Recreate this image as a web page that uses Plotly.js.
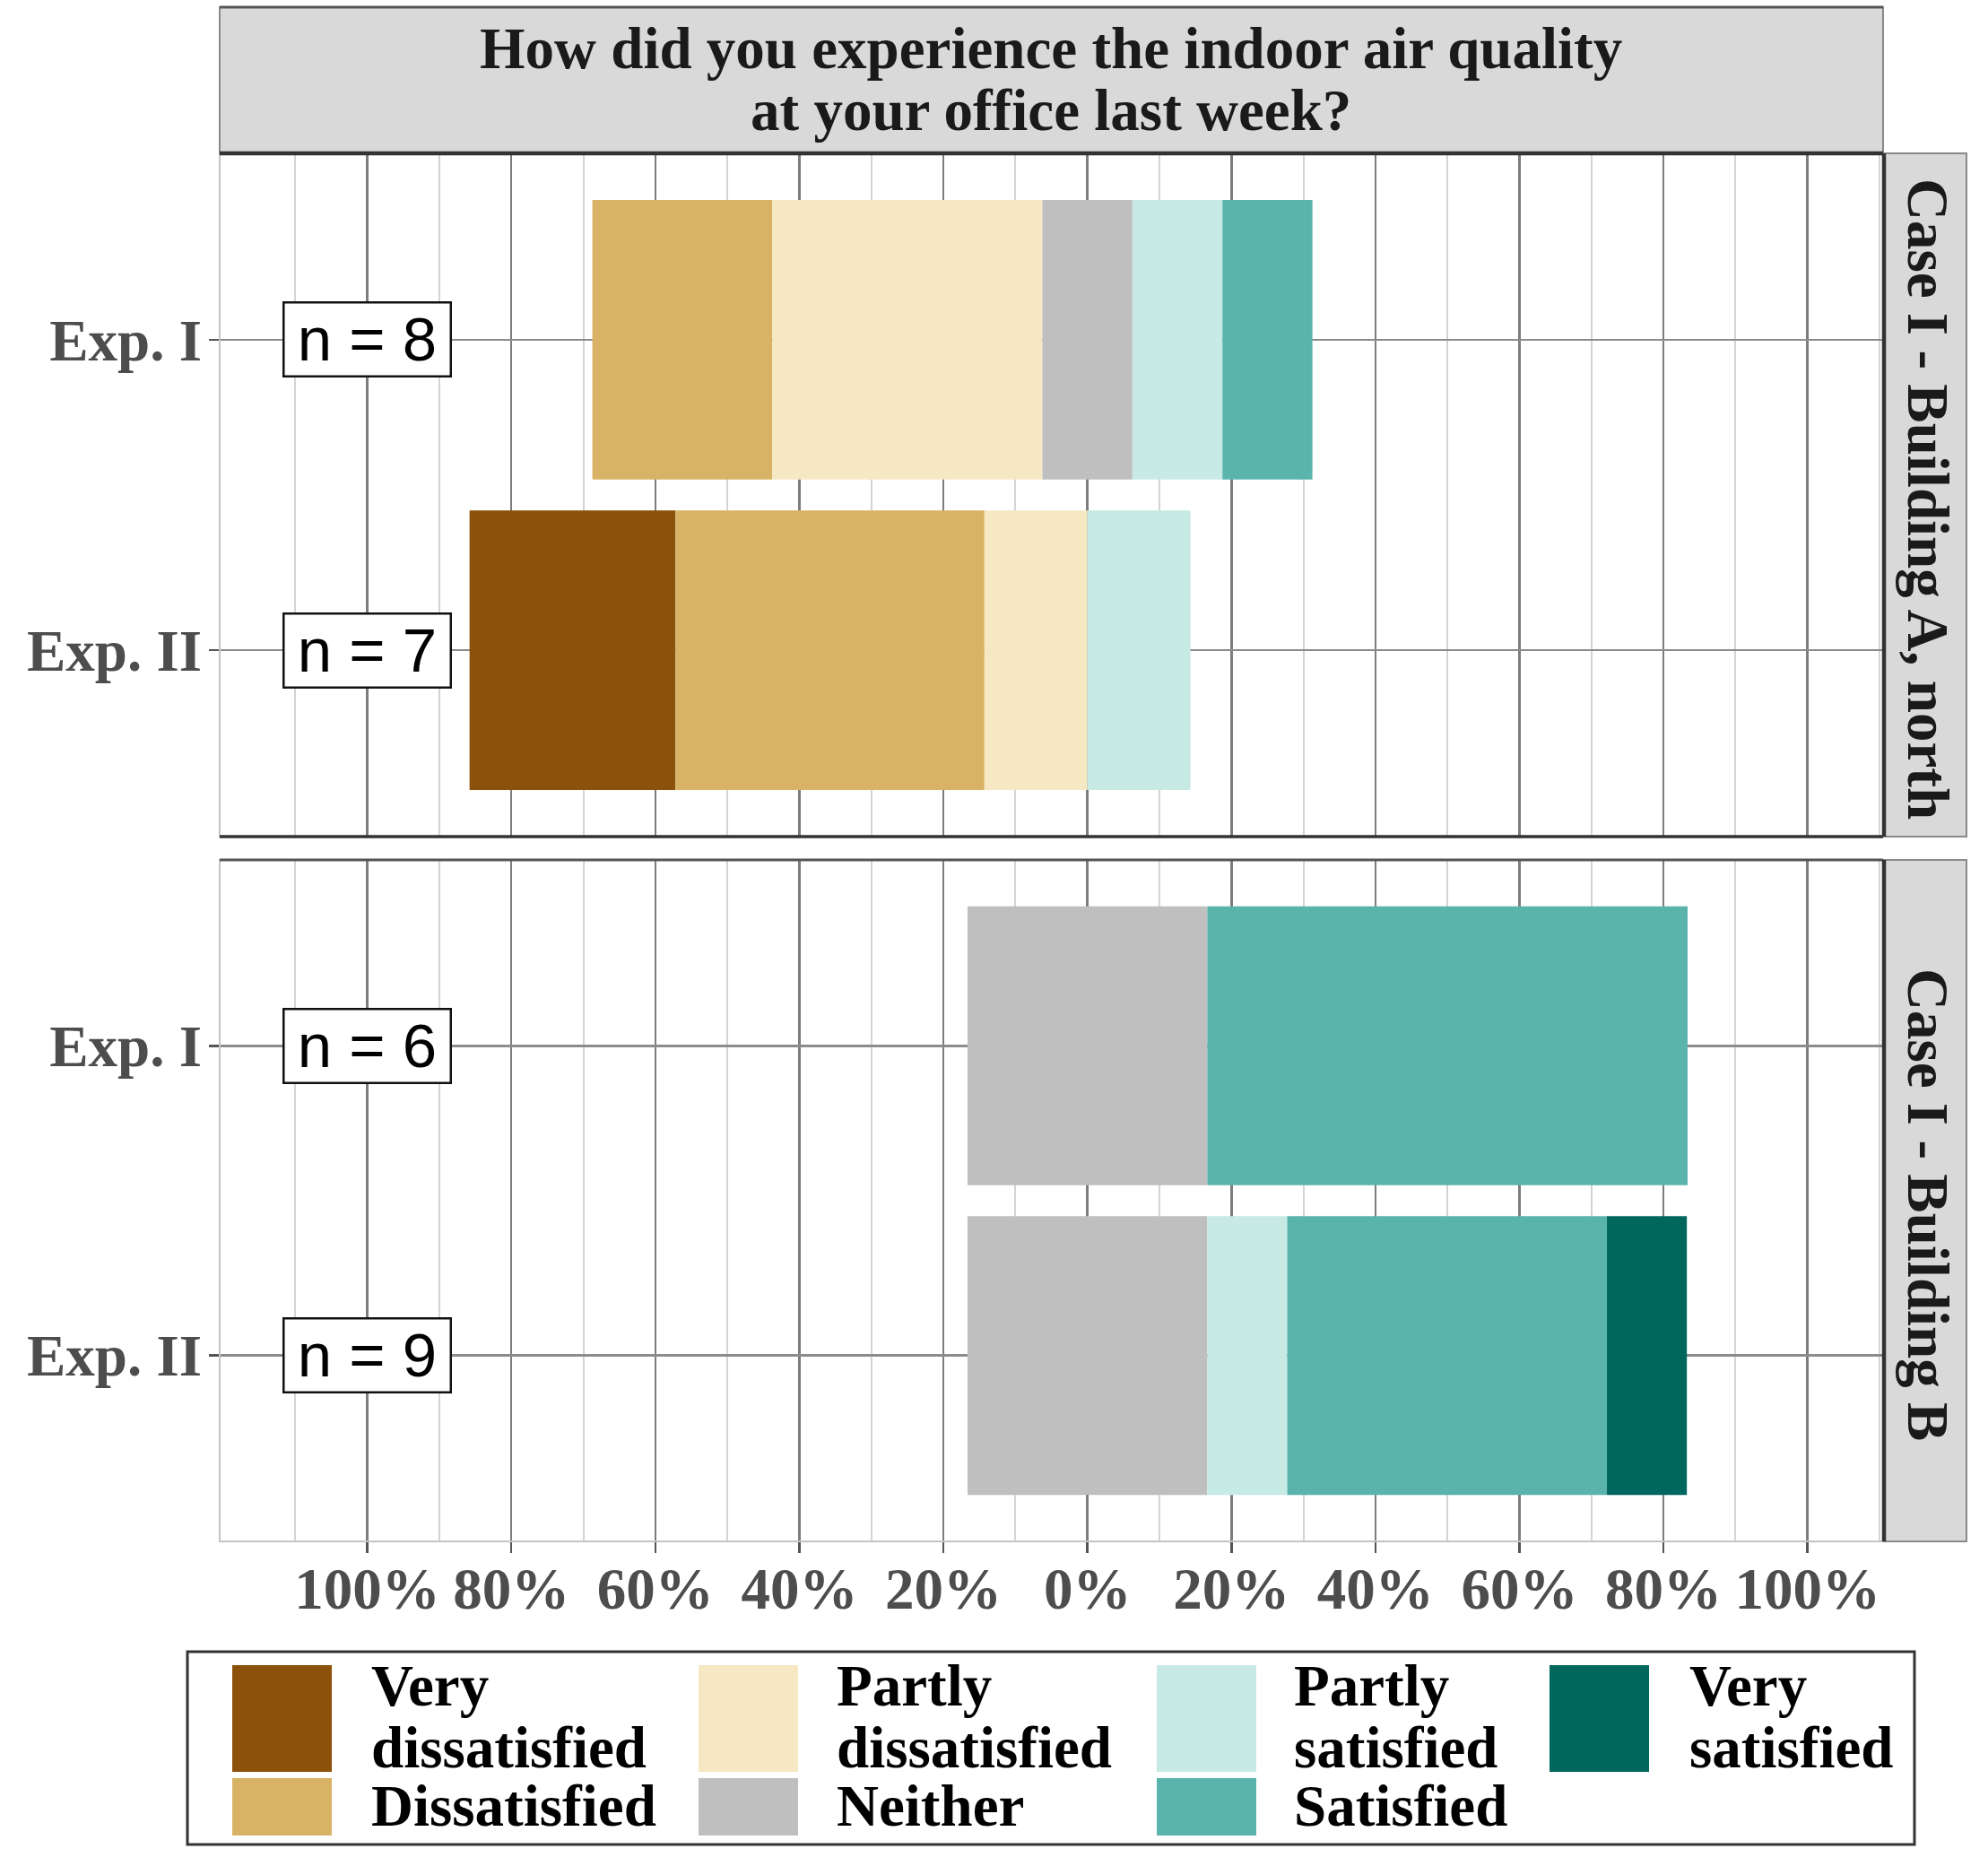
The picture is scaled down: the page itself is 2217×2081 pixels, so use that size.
<!DOCTYPE html>
<html>
<head>
<meta charset="utf-8">
<script src="https://cdn.plot.ly/plotly-3.0.1.min.js"></script>
<style>
  body { margin: 0; background: #fff; }
  #grafica { width: 2217px; height: 2081px; }
</style>
</head>
<body>
<div id="grafica"></div>
<script>
// filas: [A Exp. I, A Exp. II, B Exp. I, B Exp. II]  (porcentajes)
const grupos = ["Exp. I", "Exp. II"];
const paneles = ["Case I - Building A, north", "Case I - Building B"];
const nEncuestados = [8, 7, 6, 9];

const veryDissatisfied   = [0, 28.6, 0, 0];
const dissatisfied       = [25, 42.9, 0, 0];
const partlyDissatisfied = [37.5, 14.3, 0, 0];
const neither            = [12.5, 0, 33.3, 33.3];
const partlySatisfied    = [12.5, 14.3, 0, 11.1];
const satisfied          = [12.5, 0, 66.7, 44.4];
const verySatisfied      = [0, 0, 0, 11.1];

const ticksX = [-100, -80, -60, -40, -20, 0, 20, 40, 60, 80, 100];
const textosX = ["100%", "80%", "60%", "40%", "20%", "0%", "20%", "40%", "60%", "80%", "100%"];
const ticksMenores = [-110, -90, -70, -50, -30, -10, 10, 30, 50, 70, 90, 110];

const colores = {
  "Very dissatisfied": "#8c510a",
  "Dissatisfied": "#d8b365",
  "Partly dissatisfied": "#f6e8c3",
  "Neither": "#bfbfbf",
  "Partly satisfied": "#c7eae5",
  "Satisfied": "#5ab4ac",
  "Very satisfied": "#01665e"
};

const W = 2217, H = 2081;
const px = v => v / W;
const py = v => 1 - v / H;

const SERIF = "Liberation Serif, Times New Roman, serif";
const SANS = "Liberation Sans, Arial, sans-serif";

// barras divergentes: "Neither" queda centrada en 0
function trazasPanel(p) {
  const filas = [p * 2, p * 2 + 1];
  const ejeX = p === 0 ? "x" : "x2";
  const ejeY = p === 0 ? "y" : "y2";
  const orden = [
    ["Very dissatisfied", veryDissatisfied],
    ["Dissatisfied", dissatisfied],
    ["Partly dissatisfied", partlyDissatisfied],
    ["Neither", neither],
    ["Partly satisfied", partlySatisfied],
    ["Satisfied", satisfied],
    ["Very satisfied", verySatisfied]
  ];
  // borde izquierdo de cada barra
  const inicio = filas.map(i =>
    -(neither[i] / 2 + partlyDissatisfied[i] + dissatisfied[i] + veryDissatisfied[i]));
  return orden.map(([nombre, arr]) => {
    const valores = filas.map(i => arr[i]);
    const bases = inicio.slice();
    valores.forEach((v, k) => { inicio[k] += v; });
    return {
      type: "bar",
      orientation: "h",
      name: nombre,
      y: grupos,
      x: valores,
      base: bases,
      xaxis: ejeX,
      yaxis: ejeY,
      width: 0.9,
      marker: { color: colores[nombre], line: { width: 0 } },
      showlegend: false,
      hoverinfo: "skip"
    };
  });
}

const datos = [...trazasPanel(0), ...trazasPanel(1)];

const ejeXBase = {
  domain: [px(245), px(2100)],
  range: [-120.5, 110.5],
  tickmode: "array",
  tickvals: ticksX,
  ticktext: textosX,
  showgrid: true,
  gridcolor: "#7d7d7d",
  gridwidth: 2.5,
  zeroline: false,
  showline: false,
  minor: {
    tickmode: "array",
    tickvals: ticksMenores,
    showgrid: true,
    gridcolor: "#d4d4d4",
    gridwidth: 2,
    ticks: ""
  },
  fixedrange: true
};

const ejeYBase = {
  type: "category",
  categoryarray: grupos,
  range: [1.6, -0.6],
  showgrid: true,
  gridcolor: "#8c8c8c",
  gridwidth: 2.5,
  zeroline: false,
  showline: false,
  ticks: "outside",
  ticklen: 11,
  tickwidth: 2.5,
  tickcolor: "#555",
  ticklabelstandoff: -5,
  tickfont: { family: SERIF, size: 65, color: "#4d4d4d", weight: "bold" },
  fixedrange: true
};

const layout = {
  width: W,
  height: H,
  margin: { l: 0, r: 0, t: 0, b: 0 },
  paper_bgcolor: "#fff",
  plot_bgcolor: "#fff",
  barmode: "overlay",
  showlegend: false,
  xaxis: { ...ejeXBase, anchor: "y", showticklabels: false, ticks: "" },
  xaxis2: {
    ...ejeXBase,
    anchor: "y2",
    ticks: "outside",
    ticklen: 12,
    tickwidth: 2.5,
    tickcolor: "#555",
    ticklabelstandoff: -16,
    tickfont: { family: SERIF, size: 65, color: "#4d4d4d", weight: "bold" }
  },
  yaxis: { ...ejeYBase, anchor: "x", domain: [py(933), py(171)] },
  yaxis2: { ...ejeYBase, anchor: "x2", domain: [py(1719), py(959)] },
  shapes: [],
  annotations: []
};

const formas = layout.shapes;
const notas = layout.annotations;

// marcos de los paneles
formas.push({ type: "rect", xref: "paper", yref: "paper", x0: px(245), x1: px(2100), y0: py(933), y1: py(171), line: { color: "#c4c4c4", width: 2 } });
formas.push({ type: "rect", xref: "paper", yref: "paper", x0: px(245), x1: px(2100), y0: py(1719), y1: py(959), line: { color: "#c4c4c4", width: 2 } });
formas.push({ type: "line", xref: "paper", yref: "paper", x0: px(245), x1: px(2100), y0: py(933), y1: py(933), line: { color: "#333", width: 3.5 } });
formas.push({ type: "line", xref: "paper", yref: "paper", x0: px(245), x1: px(2100), y0: py(959), y1: py(959), line: { color: "#555", width: 3 } });

// franja del título
formas.push({ type: "rect", xref: "paper", yref: "paper", x0: px(245), x1: px(2100), y0: py(171), y1: py(8), fillcolor: "#d9d9d9", line: { color: "#8a8a8a", width: 2 } });
formas.push({ type: "line", xref: "paper", yref: "paper", x0: px(245), x1: px(2100), y0: py(8), y1: py(8), line: { color: "#555", width: 3 } });
formas.push({ type: "line", xref: "paper", yref: "paper", x0: px(245), x1: px(2100), y0: py(171), y1: py(171), line: { color: "#333", width: 4.5 } });

const lineasTitulo = [["How did you experience the indoor air quality", 77], ["at your office last week?", 146]];
lineasTitulo.forEach(([texto, base]) => {
  notas.push({
    xref: "paper", yref: "paper", x: px(1172), y: py(base + 15),
    xanchor: "center", yanchor: "bottom", showarrow: false,
    text: texto, font: { family: SERIF, size: 65, color: "#1a1a1a", weight: "bold" }
  });
});

// franjas laterales
const franjas = [[171, 933], [959, 1719]];
franjas.forEach(([y0, y1], i) => {
  formas.push({ type: "rect", xref: "paper", yref: "paper", x0: px(2101), x1: px(2193), y0: py(y1), y1: py(y0), fillcolor: "#d9d9d9", line: { color: "#8a8a8a", width: 2 } });
  formas.push({ type: "line", xref: "paper", yref: "paper", x0: px(2101), x1: px(2101), y0: py(y1), y1: py(y0), line: { color: "#333", width: 4.5 } });
  notas.push({
    xref: "paper", yref: "paper", x: px(2150), y: py((y0 + y1) / 2 + 4),
    xanchor: "center", yanchor: "middle", showarrow: false, textangle: 90,
    text: paneles[i], font: { family: SERIF, size: 65, color: "#1a1a1a", weight: "bold" }
  });
});

// etiquetas n = ...
nEncuestados.forEach((n, i) => {
  const p = Math.floor(i / 2);
  notas.push({
    xref: p === 0 ? "x" : "x2", yref: p === 0 ? "y" : "y2",
    x: -100, y: grupos[i % 2],
    xanchor: "center", yanchor: "middle", showarrow: false,
    text: "n = " + n,
    font: { family: SANS, size: 69, color: "#000" },
    bgcolor: "#fff", bordercolor: "#111", borderwidth: 2.5, borderpad: 2,
    width: 180, height: 76
  });
});

// leyenda hecha a mano (dos filas, por columnas)
formas.push({ type: "rect", xref: "paper", yref: "paper", x0: px(209), x1: px(2135), y0: py(2057), y1: py(1842), fillcolor: "#fff", line: { color: "#333", width: 3 }, layer: "below" });

const columnasSwatch = [259, 779, 1290, 1728];
const columnasTexto = [414, 933, 1443, 1884];
const leyenda = [
  [0, 0, "Very dissatisfied", ["Very", "dissatisfied"]],
  [0, 1, "Dissatisfied", ["Dissatisfied"]],
  [1, 0, "Partly dissatisfied", ["Partly", "dissatisfied"]],
  [1, 1, "Neither", ["Neither"]],
  [2, 0, "Partly satisfied", ["Partly", "satisfied"]],
  [2, 1, "Satisfied", ["Satisfied"]],
  [3, 0, "Very satisfied", ["Very", "satisfied"]]
];
const filasSwatch = [[1857, 1976], [1983, 2047]];
const basesFila = [[1903, 1972], [2037]];

leyenda.forEach(([col, fila, nombre, lineas]) => {
  const [ya, yb] = filasSwatch[fila];
  formas.push({
    type: "rect", xref: "paper", yref: "paper",
    x0: px(columnasSwatch[col]), x1: px(columnasSwatch[col] + 111),
    y0: py(yb), y1: py(ya),
    fillcolor: colores[nombre], line: { width: 0 }
  });
  lineas.forEach((t, k) => {
    notas.push({
      xref: "paper", yref: "paper", x: px(columnasTexto[col] - 2), y: py(basesFila[fila][k] + 15),
      xanchor: "left", yanchor: "bottom", showarrow: false,
      text: t, font: { family: SERIF, size: 65, color: "#000", weight: "bold" }
    });
  });
});

Plotly.newPlot("grafica", datos, layout, { staticPlot: true, displayModeBar: false });
</script>
</body>
</html>
